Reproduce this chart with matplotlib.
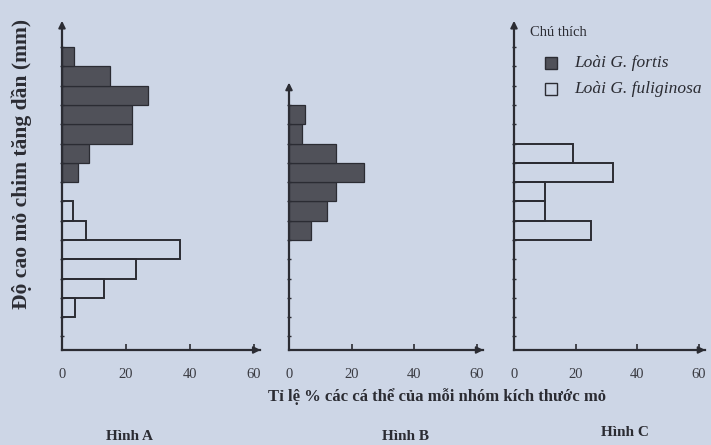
"""Ba biểu đồ tần suất độ cao mỏ của hai loài sẻ Galapagos (Hình A, B, C)."""

import matplotlib.pyplot as plt
from matplotlib.patches import Rectangle

plt.rcParams['font.family'] = ['Liberation Serif', 'DejaVu Serif']

# y = bin index (bottom edge), w = % individuals
A_fortis_bins = [9, 10, 11, 12, 13, 14, 15]
A_fortis_pct = [5, 8.5, 22, 22, 27, 15, 3.7]
A_fulig_bins = [2, 3, 4, 5, 6, 7]
A_fulig_pct = [4, 13, 23, 37, 7.5, 3.5]

B_fortis_bins = [6, 7, 8, 9, 10, 11, 12]
B_fortis_pct = [7, 12, 15, 24, 15, 4, 5]

C_fulig_bins = [6, 7, 8, 9, 10]
C_fulig_pct = [25, 10, 10, 32, 19]

xticks = [0, 20, 40, 60]
panel_titles = ['Hình A', 'Hình B', 'Hình C']

BG = '#cdd6e6'
DARK = '#505159'
INK = '#2b2c33'

W, H = 711, 445
fig = plt.figure(figsize=(W / 100, H / 100), dpi=100, facecolor=BG)


def px_axes(left, bottom_y, width, height):
    # pixel coords measured from top-left of the image
    return fig.add_axes([left / W, (H - bottom_y) / H, width / W, height / H])


def setup(ax, ytop, ymax_ticks):
    ax.set_facecolor('none')
    ax.set_xlim(0, 61)
    ax.set_ylim(0.3, 17.66)
    for s in ['top', 'right']:
        ax.spines[s].set_visible(False)
    for s in ['left', 'bottom']:
        ax.spines[s].set_color(INK)
        ax.spines[s].set_linewidth(1.6)
    ax.spines['left'].set_bounds(0.3, ytop)
    ax.spines['bottom'].set_bounds(0, 62)
    ax.set_xticks(xticks)
    ax.set_xticklabels([str(t) for t in xticks])
    ax.set_yticks(range(1, ymax_ticks + 1))
    ax.set_yticklabels([])
    ax.tick_params(axis='x', direction='in', length=4, width=1.2, color=INK,
                   pad=13, labelsize=10.5, labelcolor='#3a3b42')
    ax.tick_params(axis='y', direction='inout', length=3, width=1.0, color=INK)
    # arrow heads
    ax.annotate('', xy=(0, ytop + 0.3), xytext=(0, ytop - 0.6),
                arrowprops=dict(arrowstyle='-|>', color=INK, lw=1.4,
                                mutation_scale=10), annotation_clip=False)
    ax.annotate('', xy=(63, 0.3), xytext=(60, 0.3),
                arrowprops=dict(arrowstyle='-|>', color=INK, lw=1.4,
                                mutation_scale=10), annotation_clip=False)


axA = px_axes(62, 350, 195, 335)
axB = px_axes(289, 350, 191, 335)
axC = px_axes(514, 350, 188, 335)

setup(axA, 17.2, 16)
setup(axB, 14.0, 13)
setup(axC, 17.2, 16)

axA.barh(A_fortis_bins, A_fortis_pct, height=1, align='edge',
         color=DARK, edgecolor=INK, linewidth=0.9)
axA.barh(A_fulig_bins, A_fulig_pct, height=1, align='edge',
         color='none', edgecolor=INK, linewidth=1.4)
axB.barh(B_fortis_bins, B_fortis_pct, height=1, align='edge',
         color=DARK, edgecolor=INK, linewidth=0.9)
axC.barh(C_fulig_bins, C_fulig_pct, height=1, align='edge',
         color='none', edgecolor=INK, linewidth=1.4)

# labels
fig.text(22 / W, 1 - 164 / H, 'Độ cao mỏ chim tăng dần (mm)', rotation=90,
         ha='center', va='center', fontsize=15.5, fontweight='bold', color=INK)
fig.text(437 / W, 1 - 397 / H, 'Tỉ lệ % các cá thể của mỗi nhóm kích thước mỏ',
         ha='center', va='center', fontsize=12, fontweight='bold', color=INK)
for (cx, cy), title in zip([(130, 437), (405, 437), (625, 432)], panel_titles):
    fig.text(cx / W, 1 - cy / H, title, ha='center', va='center',
             fontsize=11, fontweight='bold', color=INK)

# legend
fig.text(530 / W, 1 - 33 / H, 'Chú thích', ha='left', va='center',
         fontsize=10.5, color=INK)
fig.add_artist(Rectangle((545 / W, 1 - 69 / H), 12 / W, 12 / H,
                         transform=fig.transFigure, facecolor=DARK,
                         edgecolor=INK, linewidth=1))
fig.text(574 / W, 1 - 63 / H, 'Loài G. fortis', ha='left', va='center',
         fontsize=12.5, style='italic', color=INK)
fig.add_artist(Rectangle((545 / W, 1 - 95 / H), 12 / W, 12 / H,
                         transform=fig.transFigure, facecolor='none',
                         edgecolor=INK, linewidth=1))
fig.text(574 / W, 1 - 89 / H, 'Loài G. fuliginosa', ha='left', va='center',
         fontsize=12.5, style='italic', color=INK)

fig.savefig('out.png', dpi=100, facecolor=BG)
